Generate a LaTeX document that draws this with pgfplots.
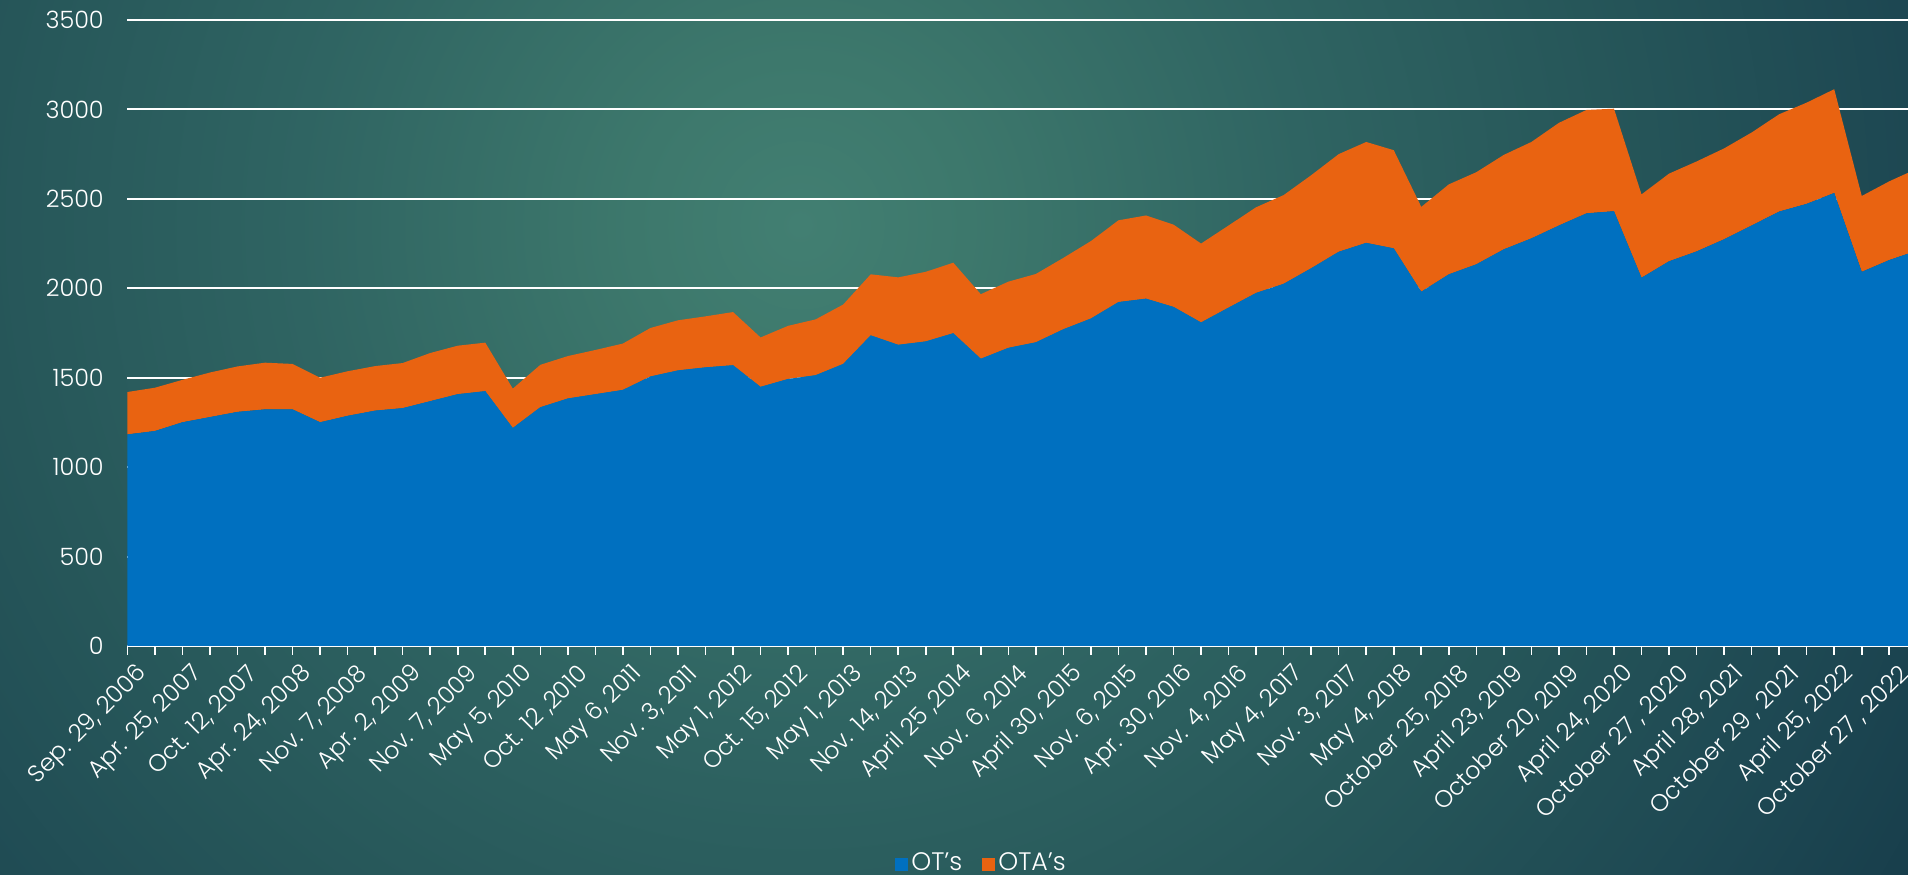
\documentclass[border=0pt]{standalone}
\usepackage{pgfplots}
\pgfplotsset{compat=1.18}
\usepackage{pgfplotstable}
\usepackage{fontspec}
\setmainfont{Poppins}[UprightFont=* Light]
\definecolor{otblue}{HTML}{0070C0}
\definecolor{otaorange}{HTML}{E96311}
\definecolor{bgA}{HTML}{427F72}
\definecolor{bgB}{HTML}{3D786C}
\definecolor{bgC}{HTML}{2F6462}
\definecolor{bgD}{HTML}{265659}
\definecolor{bgE}{HTML}{1D4752}
\definecolor{bgF}{HTML}{143847}
\pgfdeclareradialshading{bgshade}{\pgfpoint{0bp}{0bp}}{color(0bp)=(bgA); color(3bp)=(bgB); color(9bp)=(bgC); color(14.5bp)=(bgD); color(20bp)=(bgE); color(25bp)=(bgF); color(50bp)=(bgF)}

\pgfplotstableread{
i ot ota
0 1183 237
1 1202 242
2 1251 237
3 1280 249
4 1309 254
5 1323 261
6 1323 254
7 1251 249
8 1287 249
9 1316 249
10 1330 252
11 1369 269
12 1408 271
13 1425 271
14 1219 220
15 1335 237
16 1384 237
17 1408 247
18 1432 259
19 1507 271
20 1541 280
21 1558 285
22 1570 297
23 1449 276
24 1493 297
25 1514 312
26 1577 332
27 1737 341
28 1684 377
29 1703 389
30 1749 394
31 1606 361
32 1667 370
33 1698 382
34 1771 399
35 1831 433
36 1923 457
37 1942 465
38 1896 460
39 1809 441
40 1892 459
41 1974 479
42 2025 496
43 2112 520
44 2204 546
45 2254 564
46 2223 549
47 1981 474
48 2078 503
49 2134 515
50 2218 528
51 2279 539
52 2351 574
53 2419 578
54 2431 573
55 2059 466
56 2151 490
57 2206 503
58 2274 508
59 2351 520
60 2429 544
61 2472 566
62 2533 580
63 2092 424
64 2158 440
65 2210 458
}\data

\begin{document}
\begin{tikzpicture}
\useasboundingbox (0,0) rectangle (19.08,8.75);
\begin{scope}
\clip (0,0) rectangle (19.08,8.75);
\shade[shading=bgshade] (8.0,6.5) circle (14cm);
\end{scope}
\begin{axis}[
  at={(1.274cm,2.29cm)}, anchor=south west,
  scale only axis, width=17.806cm, height=6.26cm,
  xmin=0, xmax=64.68, ymin=0, ymax=3500,
  stack plots=y,
  axis lines*=left,
  axis line style={draw=none},
  xtick={0,2,...,64},
  minor xtick={1,3,...,63},
  xticklabels={{Sep. 29, 2006},{Apr. 25, 2007},{Oct. 12, 2007},{Apr. 24, 2008},{Nov. 7, 2008},{Apr. 2, 2009},{Nov. 7, 2009},{May 5, 2010},{Oct. 12 ,2010},{May 6, 2011},{Nov. 3, 2011},{May 1, 2012},{Oct. 15, 2012},{May 1, 2013},{Nov. 14, 2013},{April 25 ,2014},{Nov. 6, 2014},{April 30, 2015},{Nov. 6, 2015},{Apr. 30, 2016},{Nov. 4, 2016},{May 4, 2017},{Nov. 3, 2017},{May 4, 2018},{October 25, 2018},{April 23, 2019},{October 20, 2019},{April 24, 2020},{October 27 , 2020},{April 28, 2021},{October 29 , 2021},{April 25, 2022},{October 27 , 2022}},
  ytick={0,500,...,3500},
  ymajorgrids,
  grid style={white, line width=0.6pt},
  tick align=outside,
  major tick length=0.09cm,
  minor tick length=0.09cm,
  xtick style={white, line width=0.45pt},
  every minor tick/.append style={white, line width=0.45pt},
  ytick style={draw=none},
  ticklabel style={font=\fontsize{6.8}{8}\selectfont, text=white},
  xticklabel style={rotate=45, anchor=east, inner sep=0pt, yshift=-0.22cm, xshift=0.01cm},
  yticklabel style={anchor=east, inner sep=0pt, xshift=-0.14cm},
  /pgf/number format/assume math mode=true,
  /pgf/number format/1000 sep={},
  legend columns=2,
  legend style={draw=none, fill=none, text=white, font=\fontsize{7.2}{8}\selectfont,
    at={(0.480,-0.349)}, anchor=center,
    /tikz/every even column/.append style={column sep=0.17cm},
    nodes={inner sep=0.03cm}},
]
\addplot[draw=none, fill=otblue,
  legend image code/.code={\fill[otblue] (0cm,-0.065cm) rectangle (0.13cm,0.065cm);}]
  table[x=i, y=ot]{\data} \closedcycle;
\addplot[draw=none, fill=otaorange,
  legend image code/.code={\fill[otaorange] (0cm,-0.065cm) rectangle (0.13cm,0.065cm);}]
  table[x=i, y=ota]{\data} \closedcycle;
\legend{OT's, OTA's}
\draw[white, line width=0.6pt] (axis cs:0,0) -- (axis cs:64.68,0);
\end{axis}
\end{tikzpicture}
\end{document}
